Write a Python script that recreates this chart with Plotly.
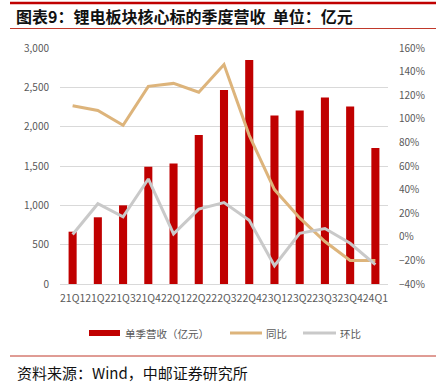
import plotly.graph_objects as go

quarters = ["21Q1", "21Q2", "21Q3", "21Q4", "22Q1", "22Q2", "22Q3", "22Q4",
            "23Q1", "23Q2", "23Q3", "23Q4", "24Q1"]
revenue = [665, 848, 1000, 1490, 1533, 1893, 2465, 2846, 2143, 2207, 2372, 2257, 1728]
yoy = [1.11, 1.07, 0.945, 1.275, 1.30, 1.225, 1.46, 0.86, 0.40, 0.16, -0.04, -0.20, -0.20]
qoq = [0.02, 0.28, 0.17, 0.49, 0.025, 0.235, 0.29, 0.14, -0.245, 0.03, 0.07, -0.055, -0.235]

BAR = "#C00000"
YOY_C = "#DDB47B"
QOQ_C = "#C9C9C9"
TICK = "#595959"
FONT = "Noto Sans CJK SC"

fig = go.Figure()
fig.add_trace(go.Bar(x=quarters, y=revenue, name="单季营收（亿元）", marker_color=BAR,
                     marker_line_width=0, yaxis="y"))
fig.add_trace(go.Scatter(x=quarters, y=yoy, name="同比", mode="lines",
                         line=dict(color=YOY_C, width=3), yaxis="y2"))
fig.add_trace(go.Scatter(x=quarters, y=qoq, name="环比", mode="lines",
                         line=dict(color=QOQ_C, width=3), yaxis="y2"))

L, R, T, B = 60, 48, 48, 102
W, H = 436, 386
pw, ph = W - L - R, H - T - B


def px(x):
    return (x - L) / pw


def py(y):
    return (H - B - y) / ph


shapes = [
    dict(type="line", xref="paper", yref="paper", x0=px(10), x1=px(436), y0=py(3), y1=py(3),
         line=dict(color="#C00000", width=2.5)),
    dict(type="line", xref="paper", yref="paper", x0=px(10), x1=px(436), y0=py(28.5), y1=py(28.5),
         line=dict(color="#C0392B", width=1)),
    dict(type="line", xref="paper", yref="paper", x0=px(10), x1=px(436), y0=py(356), y1=py(356),
         line=dict(color="#C0392B", width=1)),
    # legend symbols
    dict(type="rect", xref="paper", yref="paper", x0=px(89), x1=px(120), y0=py(330), y1=py(336),
         fillcolor=BAR, line_width=0),
    dict(type="line", xref="paper", yref="paper", x0=px(230), x1=px(262), y0=py(333), y1=py(333),
         line=dict(color=YOY_C, width=3)),
    dict(type="line", xref="paper", yref="paper", x0=px(303), x1=px(336), y0=py(333), y1=py(333),
         line=dict(color=QOQ_C, width=3)),
]

annotations = [
    dict(text="<b>图表9：锂电板块核心标的季度营收  单位：亿元</b>", xref="paper", yref="paper",
         x=px(14), y=py(16), xanchor="left", yanchor="middle", showarrow=False,
         font=dict(family=FONT, size=16, color="#111111")),
    dict(text="资料来源：Wind，中邮证券研究所", xref="paper", yref="paper",
         x=px(15), y=py(372), xanchor="left", yanchor="middle", showarrow=False,
         font=dict(family=FONT, size=15, color="#111111")),
    dict(text="单季营收（亿元）", xref="paper", yref="paper", x=px(123), y=py(333),
         xanchor="left", yanchor="middle", showarrow=False,
         font=dict(family=FONT, size=10.5, color=TICK)),
    dict(text="同比", xref="paper", yref="paper", x=px(264), y=py(333),
         xanchor="left", yanchor="middle", showarrow=False,
         font=dict(family=FONT, size=10.5, color=TICK)),
    dict(text="环比", xref="paper", yref="paper", x=px(338), y=py(333),
         xanchor="left", yanchor="middle", showarrow=False,
         font=dict(family=FONT, size=10.5, color=TICK)),
]

fig.update_layout(
    width=W, height=H,
    margin=dict(l=L, r=R, t=T, b=B),
    paper_bgcolor="white", plot_bgcolor="white",
    showlegend=False,
    bargap=0.68,
    font=dict(family=FONT, size=10, color=TICK),
    xaxis=dict(type="category", showgrid=False, showline=True, linecolor="#D9D9D9",
               linewidth=1, ticks="", tickangle=0, tickfont=dict(size=10.5, color=TICK),
               ticklabelstandoff=4),
    yaxis=dict(range=[0, 3000], dtick=500, tickformat=",", showgrid=True,
               gridcolor="#D9D9D9", gridwidth=1, zeroline=False, showline=False,
               tickfont=dict(size=10, color=TICK), ticklabelstandoff=10),
    yaxis2=dict(range=[-0.4, 1.6], dtick=0.2, tickformat=".0%", overlaying="y",
                side="right", showgrid=False, zeroline=False, showline=False,
                tickfont=dict(size=10, color=TICK), ticklabelstandoff=10),
    shapes=shapes,
    annotations=annotations,
)

fig.write_html("out.html", config={"displayModeBar": False},
               post_script="document.body.style.margin='0';document.body.style.overflow='hidden';")
